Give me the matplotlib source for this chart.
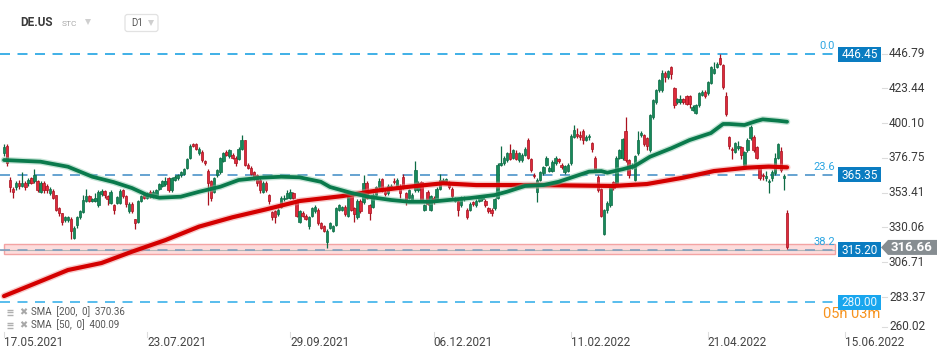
import matplotlib
matplotlib.use("Agg")
import matplotlib.pyplot as plt
from matplotlib.patches import Rectangle, FancyBboxPatch, Polygon
from matplotlib.transforms import blended_transform_factory

plt.rcParams['font.family'] = ['Roboto', 'DejaVu Sans']
plt.rcParams['lines.scale_dashes'] = False

# ---------------- data ----------------
opens = [380, 385, 362, 356, 357, 360, 358, 360, 360, 363, 361, 361, 354, 360, 357.6, 353, 354.5, 351.8, 343, 339.7,
         335, 335, 336, 323, 331.5, 337, 340.4, 348, 351, 348, 348, 345, 352.5, 354.5, 351, 346.5, 345, 346.5, 346.5, 355,
         351, 341, 346, 335.7, 333.7, 348, 352, 350, 354, 351, 352, 356, 358, 359, 363, 355, 362, 363, 365, 366,
         370, 377, 386, 386, 380, 381, 374.6, 368, 361, 354, 365, 367, 374.6, 381, 378, 379, 377, 376, 383, 388.7,
         372, 370, 367, 365, 362, 354, 360, 351.8, 340.4, 341, 339, 344, 349, 350, 350, 353, 348, 334, 340, 338,
         331, 338, 341, 342, 333, 331, 320, 330, 328, 332, 342, 342, 344, 338, 353, 343, 337, 348, 347, 360,
         345, 344, 352, 357, 362.6, 354, 353, 356, 361.5, 358, 358, 364, 353, 350, 348, 355, 355, 360.6, 342, 354,
         342, 350, 349, 356, 360, 361, 360, 356, 348, 348, 345, 349, 342, 342, 347, 345, 348, 349, 348, 343,
         342, 343, 350, 372, 373, 375, 380, 377, 380, 375, 375, 379, 389, 376, 365.5, 354, 362, 366.6, 372, 368,
         368, 373, 376, 372, 367, 368, 373, 391, 393, 392, 395, 389, 390.5, 386.7, 377, 364, 355.8, 326, 341.7, 345,
         360.6, 360, 377, 376.6, 395, 375, 370, 362, 380, 392, 392, 390, 382, 404, 414, 422, 422, 434, 431, 437.7,
         423.6, 414, 414, 416, 418, 418, 409, 407, 412, 419, 421, 420, 427, 434, 438, 444, 439, 418.3, 390.7, 383,
         381, 383.5, 384, 372, 382, 390, 391, 384, 371, 365.5, 363.5, 360.5, 363, 366.6, 377, 381.4, 363.5, 339.7]
closes = [384, 373, 357, 354, 360, 358, 360, 357, 362, 360, 365, 355, 359.6, 355, 355, 356, 349.8, 341.8, 340, 333.7,
          337, 337, 328, 330, 337, 341, 348.5, 351, 348, 349, 349.5, 353.8, 354.5, 352, 349, 353.8, 342, 350.5, 354.5, 351,
          345.8, 345.8, 341, 333, 347.8, 351, 350, 353, 351, 354, 355, 359, 361, 361, 355, 363, 364, 365, 367, 369,
          376, 385, 385, 383, 383, 375, 373, 360, 350, 363, 368.6, 376.6, 380, 379, 382, 377, 373, 383, 389, 372,
          370, 366, 364, 360, 355, 360, 355, 348, 337, 337, 342, 350, 350, 353, 354, 350, 338, 341, 338, 336,
          337, 343, 344, 333, 330, 328, 328, 333, 331, 343, 345, 343.5, 339, 351.8, 342, 339, 348, 341, 360, 350,
          340, 352, 357, 361, 355, 352.5, 358, 358, 360.5, 362, 353, 357, 347, 355, 352, 368.6, 360, 348, 345, 346,
          351, 347, 356, 361.9, 362, 362.5, 357, 351, 349.5, 342, 350, 350.5, 337, 346, 345.5, 348, 351, 351, 345, 341,
          340, 349, 372, 373.5, 377, 380, 376, 382, 376, 380, 379, 383, 377, 368.6, 364.8, 362, 367, 370.6, 377, 370,
          374, 377, 374.5, 370.5, 371, 372, 391.4, 395.4, 391.5, 390.5, 389, 391, 391.5, 382.7, 368.6, 355, 338, 341.7, 346.5, 357,
          356.5, 377, 382, 389.4, 375, 365, 372, 378, 388.7, 393.5, 386, 385, 405.5, 415.6, 422, 429, 433.7, 431, 435, 433,
          412, 416, 416, 414.5, 413, 413, 411, 412, 420, 421, 418, 427.6, 437.7, 436.5, 439.5, 440, 424, 406, 384.7, 382,
          386.7, 384.5, 379, 380.7, 389, 397.4, 382, 377, 363, 364.5, 364.5, 361.5, 367.5, 376.6, 386, 368.6, 364.5, 316.66]
highs = [386, 386, 364, 357, 361, 362, 367, 361, 363, 364, 369, 362, 361, 361, 359, 357, 356, 352, 344, 340,
         338, 338, 337, 331, 338, 342, 352, 356, 352, 350, 353, 355, 356, 355, 352, 355, 346, 351, 356, 356,
         352, 347, 347, 336, 348.5, 352, 353, 354, 355, 355, 356, 360, 362, 364, 364, 364, 365, 366, 368, 370,
         377, 386, 387, 387, 384, 382, 375, 369, 362, 364, 369.5, 377.5, 381, 382, 383, 380, 378, 384, 392, 389,
         373, 371, 368, 366, 363, 361, 361, 352.5, 341, 342, 343, 351, 352, 355, 356, 354, 349, 342, 341, 339,
         338, 344, 345, 343, 334, 332, 329, 334, 332, 344, 346, 344.5, 345, 353, 354, 344, 349, 349, 365, 361,
         346, 353, 358, 363, 363, 355, 359, 359, 363, 363, 359, 366, 354, 356, 353, 374.5, 361, 361, 346, 355,
         352, 351, 357, 366, 363, 363.5, 361, 357, 350.5, 349, 351, 351.5, 343, 347, 348, 349, 352, 352, 349, 344,
         343, 350, 373, 385, 378, 381, 386, 383, 382, 381, 380, 384, 390, 377, 366.5, 363, 368, 371.5, 378, 371,
         375, 378, 377, 373, 372, 373, 392.5, 399, 397, 395, 396, 392, 392.5, 387.5, 378, 365, 356.5, 342.5, 347.5, 358,
         361.5, 378, 383, 390, 404, 376, 373, 379, 395, 395, 393, 391, 406.5, 416.5, 423, 430, 436, 435, 436, 438.5,
         424.5, 417, 419, 417, 419, 419, 412, 413, 421, 422, 422, 428.5, 438.5, 441, 441, 446.45, 440, 421, 391.5, 384,
         387.5, 388, 385, 381.5, 390, 398.5, 392, 385, 372, 366.5, 368, 362.5, 368.5, 380, 387, 384, 366, 342]
lows = [378, 371, 354, 350, 355, 356, 357, 355, 358, 359, 360, 354, 353, 353, 353, 352, 349, 341, 338, 332,
        334, 334, 322.3, 322, 330, 336, 340, 347, 347, 347, 347, 344, 351, 350, 345, 346, 339, 346, 346, 350,
        344, 340, 340, 329, 333, 347, 349, 349, 350, 350, 351, 355, 357, 358, 354, 354, 361, 362, 364, 365,
        369, 376, 384, 382, 379, 374, 372, 345, 348, 353, 364, 366, 374, 378, 377, 376, 371, 375, 382, 371,
        369, 365, 362, 358, 353, 353, 354, 346, 335, 333, 338, 343, 348, 349, 349, 349, 337, 333, 337, 335,
        329, 337, 340, 332, 329, 327, 316, 329, 327, 331, 341, 341, 338, 337, 341, 334, 336, 340, 346, 349,
        335, 343, 351, 356, 354, 351, 352, 355, 359, 357, 350, 356, 345, 349, 347, 354, 354, 347, 341, 345,
        341, 346, 348, 355, 359, 360, 356, 350, 347, 338, 344, 348, 336, 341, 344.5, 344, 347, 348, 344, 340,
        338, 342, 349, 371, 372, 374, 375, 376, 375, 374, 374, 378, 376, 367, 363.5, 347, 361, 365, 371, 367,
        367, 372, 373, 369, 366, 367, 372, 390, 390, 389, 386, 388, 389, 381, 367, 354, 337, 325, 340, 344,
        355, 359, 376, 375, 374, 363, 369, 361, 379, 391, 385, 382, 381, 403, 413, 421, 421, 428, 430, 430,
        410, 413, 413, 413, 412, 410, 408, 406, 411, 418, 417, 419, 426, 433, 437, 439, 423, 405, 383, 376,
        380, 382, 376, 371, 381, 389, 381, 376, 362, 362, 361, 353.5, 361, 365.5, 376, 367, 355, 315.5]

sma200_idx = [0, 13, 21, 32, 42, 53, 64, 75, 86, 97, 111, 122, 133, 144, 155, 176, 200, 211, 223, 233, 244, 251, 257]
sma200_val = [284.0, 294.8, 301.5, 306.2, 313.8, 321.6, 330.6, 336.9, 342.2, 347.8, 351.1, 354.7, 357.4, 359.7,
              358.5, 358.5, 357.9, 359.2, 363.5, 367.9, 370.2, 370.9, 370.4]
sma50_idx = [0, 12, 21, 29, 36, 42, 47, 51, 58, 64, 71, 77, 84, 91, 97, 104, 107, 114, 120, 127, 133, 140, 146, 153,
             161, 165, 171, 177, 182, 187, 192, 196, 198, 203, 207, 212, 219, 225, 232, 236, 238, 243, 247, 249, 254, 257]
sma50_val = [375.3, 374.2, 370.8, 364.1, 360.5, 356.5, 351.8, 350.0, 350.7, 354.0, 357.4, 361.9, 363.4, 364.1, 363.7,
             360.7, 357.2, 353.2, 350.5, 348.5, 347.3, 347.3, 348.5, 349.8, 351.8, 354.0, 357.9, 358.5, 360.7, 364.1,
             367.5, 367.9, 366.8, 369.1, 371.3, 377.5, 383.2, 388.7, 393.4, 399.5, 399.5, 398.8, 401.5, 402.6, 401.7, 401.0]

fib_levels = [446.45, 365.35, 315.20, 280.00]
fib_names = ["0.0", "23.6", "38.2", ""]
band_low, band_high = 312.2, 318.9
last_price = 316.66
ytick_vals = [446.79, 423.44, 400.10, 376.75, 353.41, 330.06, 306.71, 283.37, 260.02]
date_idx = [0, 47, 94, 141, 186, 231, 276]
date_labels = ["17.05.2021", "23.07.2021", "29.09.2021", "06.12.2021", "11.02.2022", "21.04.2022", "15.06.2022"]
legend_lines = ["SMA  [200,  0]  370.36", "SMA  [50,  0]  400.09"]

# ---------------- layout ----------------
W, H = 949, 358
fig = plt.figure(figsize=(W / 100, H / 100), dpi=100)
PLOT_H = 332
SPACING = 3.047
X0 = 4
YTOP, YBOT = 482.7, 259.9

ax = fig.add_axes([0, 1 - PLOT_H / H, 1, PLOT_H / H])
ax.set_xlim(-X0 / SPACING, (W - X0) / SPACING)
ax.set_ylim(YBOT, YTOP)
ax.axis('off')

ui = fig.add_axes([0, 0, 1, 1], zorder=5)
ui.set_xlim(0, W)
ui.set_ylim(H, 0)
ui.axis('off')
ui.patch.set_alpha(0)


def py(v):
    return (YTOP - v) / (YTOP - YBOT) * PLOT_H


xend = (835 - X0) / SPACING
xstart = -X0 / SPACING

# band
ax.add_patch(Rectangle((0, band_low), xend, band_high - band_low, facecolor='#fddcdc',
                       edgecolor='#f3a3a3', lw=1.0, zorder=1))
ax.hlines(fib_levels[2], xstart, xend, color='#b5b5b5', lw=0.8, zorder=1.5)

# fib dashed lines
fib_colors = ['#1fa3e3', '#4b93c9', '#7f9fbd', '#3cb1ea']
for lvl, col in zip(fib_levels, fib_colors):
    ax.hlines(lvl, xstart, xend, colors=col, lw=1.2, linestyles=[(0, (7.2, 5.4))], zorder=2)

# candles
n = len(closes)
idx = list(range(n))
for i in idx:
    o, c, h, l = opens[i], closes[i], highs[i], lows[i]
    up = c >= o
    fill = '#17895b' if up else '#dd2a3b'
    edge = '#0d6b45' if up else '#a9111f'
    ax.vlines(i, l, h, color=edge, lw=0.9, zorder=3)
    bh = abs(c - o)
    if bh < 0.6:
        bh = 0.6
    ax.add_patch(Rectangle((i - 0.39, min(o, c)), 0.78, bh, facecolor=fill, edgecolor=edge,
                           lw=0.5, zorder=3.5))

# SMA lines
ax.plot(sma200_idx, sma200_val, color='#ee8a8a', lw=5.0, alpha=0.45, solid_capstyle='round', zorder=4)
ax.plot(sma200_idx, sma200_val, color='#d40000', lw=3.0, solid_capstyle='round', zorder=4.1)
ax.plot(sma50_idx, sma50_val, color='#7cc3a2', lw=4.6, alpha=0.45, solid_capstyle='round', zorder=4.2)
ax.plot(sma50_idx, sma50_val, color='#0a7a4c', lw=2.7, solid_capstyle='round', zorder=4.3)

# fib labels
for lvl, name in zip(fib_levels, fib_names):
    if name:
        ui.text(835, py(lvl) - 3, name, ha='right', va='bottom', fontsize=8, color='#2aa5e2')

# countdown text (partly under the 280 box)
ui.text(823, 314, "05h 03m", ha='left', va='center', fontsize=10.5, color='#f7931e', zorder=6)

# price boxes
box_cols = ['#0a7cc1', '#0a7cc1', '#0a7cc1', '#19a6ee']
txt_cols = ['white', 'white', 'white', '#e8f7ff']
for lvl, bc, tc in zip(fib_levels, box_cols, txt_cols):
    yc = py(lvl)
    ui.add_patch(Rectangle((838, yc - 7.5), 43, 15, facecolor=bc, edgecolor='none', zorder=7))
    ui.text(859.5, yc + 0.5, f"{lvl:.2f}", ha='center', va='center', fontsize=8.5, color=tc, zorder=8)

# y tick labels
for v in ytick_vals:
    yc = py(v)
    if v == ytick_vals[-1]:
        yc -= 5
    ui.plot([882, 887], [yc, yc], color='#dcdcdc', lw=0.8)
    ui.text(889, yc, f"{v:.2f}", ha='left', va='center', fontsize=8.5, color='#3a3a3a')

# current price tag
yc = py(last_price)
ui.add_patch(Polygon([[881, yc], [888, yc - 7.5], [937, yc - 7.5], [937, yc + 7.5], [888, yc + 7.5]],
                     closed=True, facecolor='#868d91', edgecolor='none', zorder=9))
ui.text(912, yc + 0.5, f"{last_price:.2f}", ha='center', va='center', fontsize=9.5, color='white',
        fontweight='bold', zorder=10)

# date axis
bt = blended_transform_factory(ax.transData, ui.transData)
for di, lab in zip(date_idx, date_labels):
    ui.plot([di, di], [332, 337], color='#dddddd', lw=0.8, transform=bt, clip_on=False)
    ui.text(di, 342, lab, ha='left', va='center', fontsize=8.5, color='#444444', transform=bt, clip_on=False)

# header
ui.text(20, 23, "DE.US", ha='left', va='center', fontsize=8.5, fontweight='bold', color='#3a3a3a')
ui.text(62, 24, "STC", ha='left', va='center', fontsize=6, color='#a8a8a8')
ui.plot([88], [22], marker='v', markersize=4, color='#cfcfcf', markeredgewidth=0)
ui.add_patch(FancyBboxPatch((125, 14.5), 33, 17, boxstyle="round,pad=0,rounding_size=2.5",
                            facecolor='white', edgecolor='#e2e2e2', lw=0.9))
ui.text(131, 23.5, "D1", ha='left', va='center', fontsize=7, color='#555555')
ui.plot([151], [23], marker='v', markersize=4, color='#cfcfcf', markeredgewidth=0)

# legend
for k, line in enumerate(legend_lines):
    yy = 312 + 13 * k
    for dy in (-2.5, 0, 2.5):
        ui.plot([7, 13], [yy + dy, yy + dy], color='#b0b0b0', lw=1.0, solid_capstyle='butt')
    ui.text(19.5, yy, "\u2716", ha='left', va='center', fontsize=7, color='#a8a8a8', family=['DejaVu Sans'])
    ui.text(31, yy, line, ha='left', va='center', fontsize=7, color='#555555')

fig.savefig("out.png", dpi=100)
